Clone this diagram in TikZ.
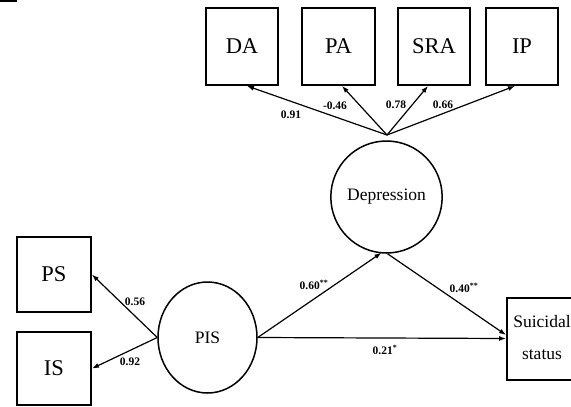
\documentclass[tikz,border=0pt]{standalone}
\usepackage{fontspec}
\setmainfont{Liberation Serif}
\usetikzlibrary{shapes.geometric,arrows.meta}
\begin{document}
\begin{tikzpicture}[x=1pt,y=-1pt,
  indicator/.style={draw,line width=1.9pt,rectangle,inner sep=0pt,font=\fontsize{22.5}{26}\selectfont},
  latent/.style={draw,line width=1.5pt,ellipse,inner sep=0pt,font=\fontsize{17.5}{21}\selectfont},
  path/.style={line width=1.2pt,-{Latex[length=7pt,width=5pt]}},
  coef/.style={font=\bfseries\fontsize{11.5}{13}\selectfont,inner sep=1pt}]
\useasboundingbox (0,0) rectangle (571,407);
\fill (0,0) rectangle (17,2);

% observed indicators of depression
\node[indicator,minimum width=72pt,minimum height=77pt] (da)  at (242,46.5)   {DA};
\node[indicator,minimum width=73pt,minimum height=77pt] (pa)  at (338.5,46.5) {PA};
\node[indicator,minimum width=72pt,minimum height=77pt] (sra) at (434,46.5)   {SRA};
\node[indicator,minimum width=72pt,minimum height=77pt] (ip)  at (522,46.5)   {IP};

% latent variables
\node[latent,minimum width=99pt,minimum height=112pt] (dep) at (386.5,197) {Depression};
\node[latent,minimum width=99pt,minimum height=111pt] (pis) at (207.5,337.5) {PIS};

% observed indicators of PIS
\node[indicator,minimum width=74pt,minimum height=75pt] (ps)  at (54,274.5) {PS};
\node[indicator,minimum width=74pt,minimum height=73pt] (isn) at (54,368.5) {IS};

% outcome
\node[indicator,minimum width=70pt,minimum height=82pt] (sui) at (542,339) {};
\node[font=\fontsize{17.5}{32}\selectfont,align=center,inner sep=0pt] (suitxt) at (542,338) {Suicidal\\status};

% loadings
\coordinate (dtop) at (387,135);
\draw[path] (dtop) -- ([xshift=5pt]da.south);
\draw[path] (dtop) -- ([xshift=3.5pt]pa.south);
\draw[path] (dtop) -- ([xshift=-6pt]sra.south);
\draw[path] (dtop) -- ([xshift=-7pt]ip.south);
\draw[path] (pis.west) -- (ps.east);
\draw[path] (pis.west) -- (isn.east);

% structural paths
\draw[path] (pis.east) -- ([xshift=-5pt,yshift=1pt]dep.south);
\draw[path] ([xshift=1pt]dep.south) -- ([yshift=4pt]sui.west);
\draw[path] (pis.east) -- ([yshift=0.5pt]sui.west);

% coefficients
\node[coef] (c1) at (291,115) {0.91};
\node[coef] (c2) at (335,106) {-0.46};
\node[coef] (c3) at (396,105) {0.78};
\node[coef] (c4) at (443,105) {0.66};
\node[coef] (c5) at (135,302) {0.56};
\node[coef] (c6) at (130,362) {0.92};
\node[coef] (c7) at (314,285) {0.60\textsuperscript{**}};
\node[coef] (c8) at (464,288) {0.40\textsuperscript{**}};
\node[coef] (c9) at (385,350) {0.21\textsuperscript{*}};
\end{tikzpicture}
\end{document}
